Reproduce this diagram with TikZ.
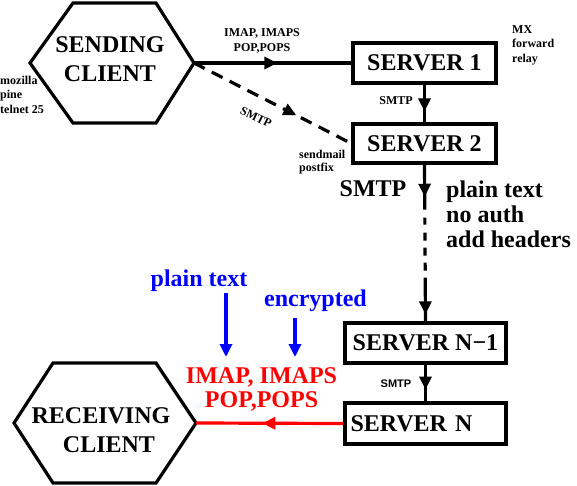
\documentclass[tikz,border=0pt]{standalone}
\usepackage{fontspec}
\setmainfont{Liberation Serif}
\newfontfamily\labsans{Liberation Sans}
\usetikzlibrary{arrows.meta,decorations.markings}
\newcommand\fbig{\fontsize{24}{25}\selectfont\bfseries}
\newcommand\fhex{\fontsize{24}{29}\selectfont\bfseries}
\newcommand\fredl{\fontsize{24}{24}\selectfont\bfseries}
\newcommand\fsmall{\fontsize{12}{14.5}\selectfont\bfseries}
\newcommand\fsmallsans{\labsans\fontsize{11}{13}\selectfont\bfseries}
\definecolor{pureblue}{RGB}{0,0,255}
\definecolor{purered}{RGB}{255,0,0}
\tikzset{
  xtip/.tip={Triangle[length=13pt,width=12pt]},
  srv/.style={draw, line width=3.2pt, minimum height=40pt, inner sep=0pt, font=\fbig},
  hexline/.style={line width=3.2pt, line join=miter},
  conn/.style={line width=3.2pt},
  midarrow/.style={postaction={decorate,decoration={markings,mark=at position #1 with {\arrow{xtip}}}}},
  lab/.style={inner sep=0pt, font=\fsmall},
  biglab/.style={inner sep=0pt, font=\fbig},
}
\begin{document}
\begin{tikzpicture}[x=1pt,y=-1pt]
\useasboundingbox (0,0) rectangle (577,486);
% sending client
\coordinate (sendE) at (194,63);
\draw[hexline] (30,63) -- (73,3) -- (156,3) -- (sendE) -- (156,123) -- (73,123) -- cycle;
\node[inner sep=0pt, font=\fhex, align=center] (sendtxt) at (110,59) {SENDING\\CLIENT};
\node[lab, anchor=west, align=left] (clients) at (0,94.5) {mozilla\\pine\\telnet 25};
% receiving client
\coordinate (recvE) at (196,423);
\draw[hexline] (14,423) -- (53,363) -- (156,363) -- (recvE) -- (156,483) -- (53,483) -- cycle;
\node[inner sep=0pt, font=\fhex, align=center] (recvtxt) at (101,430) {RECEIVING\\\hspace*{16pt}CLIENT};
% servers
\node[srv, minimum width=143pt] (s1) at (424.5,63) {SERVER 1};
\node[srv, minimum width=143pt, minimum height=39pt] (s2) at (424.5,143.5) {SERVER 2};
\node[srv, minimum width=161pt] (sn1) at (425.5,343) {SERVER N−1};
\node[srv, minimum width=161pt, minimum height=41pt, text width=150pt, align=left, inner xsep=5.5pt] (sn) at (425.5,423.5) {SERVER N};
% labels
\node[lab, align=center] (imaptop) at (262,41) {IMAP, IMAPS\\POP,POPS};
\node[lab, anchor=west, align=left] (mx) at (512,45) {MX\\forward\\relay};
\node[lab, anchor=west, align=left, font=\fontsize{12}{13.5}\selectfont\bfseries] (mta) at (299,162) {sendmail\\postfix};
\node[lab] (smtp1) at (396,101) {SMTP};
\node[lab, rotate=-26] (smtpd) at (256,117) {SMTP};
\node[inner sep=0pt, font=\fsmallsans] (smtp3) at (396,384) {SMTP};
\node[biglab] (smtp2) at (373,189) {SMTP};
\node[biglab, anchor=west, align=left] (props) at (446,214) {plain text\\no auth\\add headers};
\node[inner sep=0pt, font=\fredl, align=center, text=purered] (imapred) at (261.5,389) {IMAP, IMAPS\\POP,POPS};
\node[biglab, text=pureblue] (plaintxt) at (199,281) {plain text};
\node[biglab, text=pureblue] (enctxt) at (315.5,301) {encrypted};
\coordinate (plainA) at (226,357);
\coordinate (encA) at (295,357);
% connectors
\draw[conn, midarrow=0.53] (sendE) -- (s1.west);
\draw[conn, dash pattern=on 12pt off 8pt, midarrow=0.65] (sendE) -- (s2.west);
\draw[conn, midarrow=0.71] (s1.south) -- (s2.north);
\draw[conn, dash pattern=on 45pt off 8pt on 7pt off 8pt on 8pt off 7pt on 8pt off 7pt on 8pt off 7pt on 80pt,
  postaction={decorate,decoration={markings,
    mark=at position 0.205 with {\arrow{xtip}},
    mark=at position 0.955 with {\arrow{xtip}}}}] (s2.south) -- (sn1.north);
\draw[conn, midarrow=0.68] (sn1.south) -- (sn.north);
\draw[conn, purered, midarrow=0.55] (sn.west) -- (recvE);
\draw[conn, pureblue, -{xtip}, shorten <=1pt] (plaintxt.south -| plainA) -- (plainA);
\draw[conn, pureblue, -{xtip}, shorten <=6pt] (enctxt.south -| encA) -- (encA);
\end{tikzpicture}
\end{document}
